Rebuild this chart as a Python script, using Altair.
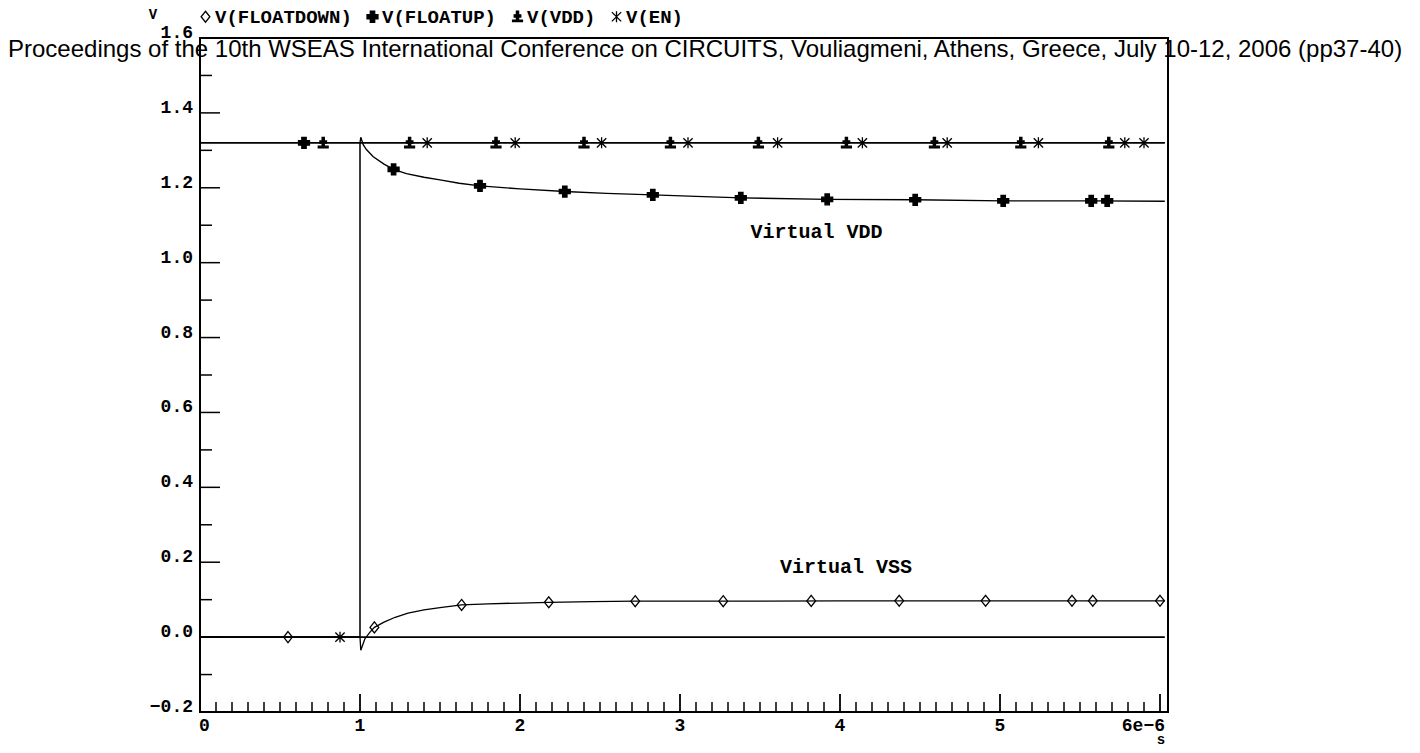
import altair as alt
import numpy as np
import pandas as pd

# ---------------- data ----------------
series_names = ["V(FLOATDOWN)", "V(FLOATUP)", "V(VDD)", "V(EN)"]

floatdown_t = [0.0, 1.0, 1.005, 1.03, 1.06, 1.09, 1.15, 1.22, 1.30, 1.40, 1.50, 1.635, 1.80, 2.00, 2.18, 2.45, 2.72, 3.27, 4.00, 6.03]
floatdown_v = [0.0, 0.0, -0.035, -0.005, 0.012, 0.026, 0.040, 0.053, 0.064, 0.073, 0.079, 0.086, 0.089, 0.091, 0.093, 0.095, 0.096, 0.096, 0.097, 0.097]

floatup_t = [0.0, 1.0, 1.005, 1.02, 1.04, 1.083, 1.15, 1.21, 1.29, 1.40, 1.50, 1.62, 1.75, 2.00, 2.28, 2.54, 2.83, 3.10, 3.385, 3.92, 4.47, 5.02, 5.57, 6.03]
floatup_v = [1.32, 1.32, 1.335, 1.315, 1.302, 1.283, 1.263, 1.249, 1.238, 1.228, 1.221, 1.212, 1.205, 1.197, 1.190, 1.185, 1.181, 1.177, 1.173, 1.169, 1.168, 1.165, 1.165, 1.164]

vdd_t = [0.0, 6.03]
vdd_v = [1.32, 1.32]

en_t = [0.0, 1.0, 1.0, 6.03]
en_v = [0.0, 0.0, 1.32, 1.32]

zero_t = [0.0, 6.03]
zero_v = [0.0, 0.0]

floatdown_marks = [0.55, 1.09, 1.635, 2.18, 2.72, 3.27, 3.82, 4.37, 4.91, 5.45, 5.58, 6.00]
floatup_marks = [0.65, 1.21, 1.75, 2.28, 2.83, 3.38, 3.92, 4.47, 5.02, 5.57, 5.67]
vdd_marks = [0.77, 1.31, 1.85, 2.40, 2.94, 3.49, 4.04, 4.59, 5.13, 5.68]
en_marks = [0.875, 1.42, 1.97, 2.51, 3.05, 3.61, 4.14, 4.67, 5.24, 5.78, 5.90]

x_label_values = [0, 1, 2, 3, 4, 5, 6]
x_label_text = ["0", "1", "2", "3", "4", "5", "6e\u22126"]
y_label_values = [-0.2, 0.0, 0.2, 0.4, 0.6, 0.8, 1.0, 1.2, 1.4, 1.6]
y_label_text = ["\u22120.2", "0.0", "0.2", "0.4", "0.6", "0.8", "1.0", "1.2", "1.4", "1.6"]
x_major_ticks = [1, 2, 3, 4, 5, 6]
x_minor_ticks = [round(0.1 * i, 1) for i in range(1, 61) if i % 10]
y_major_ticks = [0.0, 0.2, 0.4, 0.6, 0.8, 1.0, 1.2, 1.4]
y_minor_ticks = [-0.1, 0.1, 0.3, 0.5, 0.7, 0.9, 1.1, 1.3, 1.5]

x_title = ["s"]
y_title = ["V"]

annot_text = ["Virtual VDD", "Virtual VSS"]
annot_t = [3.44, 3.625]
annot_v = [1.082, 0.187]

header_text = ["Proceedings of the 10th WSEAS International Conference on CIRCUITS, Vouliagmeni, Athens, Greece, July 10-12, 2006 (pp37-40)"]

# ---------------- tables ----------------
curves = [
    ("V(FLOATDOWN)", floatdown_t, floatdown_v),
    ("V(FLOATUP)", floatup_t, floatup_v),
    ("V(VDD)", vdd_t, vdd_v),
    ("V(EN)", en_t, en_v),
    ("zero", zero_t, zero_v),
]
rows = []
for name, ts, vs in curves:
    for i, (t, v) in enumerate(zip(ts, vs)):
        rows.append({"series": name, "t": t, "v": v, "i": i})
line_df = pd.DataFrame(rows)

mark_rows = []
for name, ts, vs, ms in [
    ("V(FLOATDOWN)", floatdown_t, floatdown_v, floatdown_marks),
    ("V(FLOATUP)", floatup_t, floatup_v, floatup_marks),
    ("V(VDD)", vdd_t, vdd_v, vdd_marks),
    ("V(EN)", en_t, en_v, en_marks),
]:
    for m in ms:
        mark_rows.append({"series": name, "t": m, "v": float(np.interp(m, ts, vs))})
mark_df = pd.DataFrame(mark_rows)

xlab_df = pd.DataFrame({"t": x_label_values, "label": x_label_text})
ylab_df = pd.DataFrame({"v": y_label_values, "label": y_label_text})
annot_df = pd.DataFrame({"label": annot_text, "t": annot_t, "v": annot_v})
header_df = pd.DataFrame({"label": header_text})

# ---------------- styles ----------------
MONO = "Liberation Mono"
W, H = 968, 674

xs = alt.Scale(domain=[0, 6.05], nice=False, zero=False)
ys = alt.Scale(domain=[-0.2, 1.6], nice=False, zero=False)
X = lambda f="t:Q": alt.X(f, scale=xs, axis=None)
Y = lambda f="v:Q": alt.Y(f, scale=ys, axis=None)

diamond = "M0,-1L0.8,0L0,1L-0.8,0Z"
plusminus = ("M-0.2,-1L0.2,-1L0.2,-0.35L0.6,-0.35L0.6,0.05L0.2,0.05L0.2,0.4L-0.2,0.4"
             "L-0.2,0.05L-0.6,0.05L-0.6,-0.35L-0.2,-0.35Z M-0.9,0.6L0.9,0.6L0.9,0.9L-0.9,0.9Z")
asterisk = "M0,-1L0,1M-0.85,-0.85L0.85,0.85M-0.85,0.85L0.85,-0.85"
shape_range = [diamond, "cross", plusminus, asterisk]
fill_range = ["transparent", "black", "black", "transparent"]
stroke_range = ["black", "black", "black", "black"]

legend = alt.Legend(
    title=None, orient="none", legendX=-4, legendY=-31, direction="horizontal", columns=4,
    padding=0, labelFont=MONO, labelFontWeight="bold", labelFontSize=19, labelColor="black",
    labelOffset=0, columnPadding=11, symbolSize=120, symbolStrokeColor="black",
    symbolStrokeWidth=1.3,
)

# ---------------- layers ----------------
x_minor = alt.Chart(pd.DataFrame({"t": x_minor_ticks})).mark_rule(color="black", strokeWidth=1.5).encode(
    x=X(), y=alt.value(H), y2=alt.value(H - 10))
x_major = alt.Chart(pd.DataFrame({"t": x_major_ticks})).mark_rule(color="black", strokeWidth=1.8).encode(
    x=X(), y=alt.value(H), y2=alt.value(H - 18))
y_minor = alt.Chart(pd.DataFrame({"v": y_minor_ticks})).mark_rule(color="black", strokeWidth=1.5).encode(
    y=Y(), x=alt.value(0), x2=alt.value(12))
y_major = alt.Chart(pd.DataFrame({"v": y_major_ticks})).mark_rule(color="black", strokeWidth=1.5).encode(
    y=Y(), x=alt.value(0), x2=alt.value(20))

lab_style = dict(font=MONO, fontWeight="bold", fontSize=18, color="black")
xlab_first = alt.Chart(xlab_df.iloc[[0]]).mark_text(align="left", baseline="top", dx=-1, **lab_style).encode(
    x=X(), y=alt.value(H + 5), text="label:N")
xlab_mid = alt.Chart(xlab_df.iloc[1:6]).mark_text(align="center", baseline="top", **lab_style).encode(
    x=X(), y=alt.value(H + 5), text="label:N")
xlab_last = alt.Chart(xlab_df.iloc[[6]]).mark_text(align="right", baseline="top", dx=5, **lab_style).encode(
    x=X(), y=alt.value(H + 5), text="label:N")
ylab = alt.Chart(ylab_df).mark_text(align="right", baseline="alphabetic", **lab_style).encode(
    y=Y(), x=alt.value(-7), text="label:N")
xtitle = alt.Chart(pd.DataFrame({"label": x_title})).mark_text(
    align="center", baseline="middle", font=MONO, fontWeight="bold", fontSize=14, color="black").encode(
    x=alt.value(961), y=alt.value(H + 28), text="label:N")
ytitle = alt.Chart(pd.DataFrame({"label": y_title})).mark_text(
    align="center", baseline="middle", font=MONO, fontWeight="bold", fontSize=14, color="black").encode(
    x=alt.value(-47), y=alt.value(-23), text="label:N")

lines = alt.Chart(line_df).mark_line(color="black", strokeCap="butt").encode(
    x=X(), y=Y(),
    detail="series:N",
    order="i:Q",
    strokeWidth=alt.StrokeWidth("series:N", scale=alt.Scale(
        domain=series_names + ["zero"], range=[1.3, 1.6, 2.5, 2.5, 2.5]), legend=None),
)

markers = alt.Chart(mark_df).mark_point(filled=False, opacity=1, strokeWidth=1.3, size=120).encode(
    x=X(), y=Y(),
    shape=alt.Shape("series:N", scale=alt.Scale(domain=series_names, range=shape_range), legend=legend),
    fill=alt.Fill("series:N", scale=alt.Scale(domain=series_names, range=fill_range), legend=legend),
    stroke=alt.Stroke("series:N", scale=alt.Scale(domain=series_names, range=stroke_range), legend=legend),
)

annots = alt.Chart(annot_df).mark_text(align="left", baseline="middle", font=MONO, fontWeight="bold",
                                       fontSize=20, color="black").encode(
    x=X(), y=Y(), text="label:N")

header = alt.Chart(header_df).mark_text(align="left", baseline="alphabetic", font="Liberation Sans",
                                        fontSize=24, color="black").encode(
    x=alt.value(-192), y=alt.value(19), text="label:N")

chart = alt.layer(
    lines, x_minor, x_major, y_minor, y_major, markers, annots,
    xlab_first, xlab_mid, xlab_last, ylab, xtitle, ytitle, header
).properties(
    width=W, height=H,
    padding={"left": 192, "top": 30, "right": 244, "bottom": 38},
    autosize=alt.AutoSizeParams(type="none"),
    background="white",
).configure_view(stroke="black", strokeWidth=2)

chart.save("out.html", embed_options={"renderer": "svg", "actions": False})
